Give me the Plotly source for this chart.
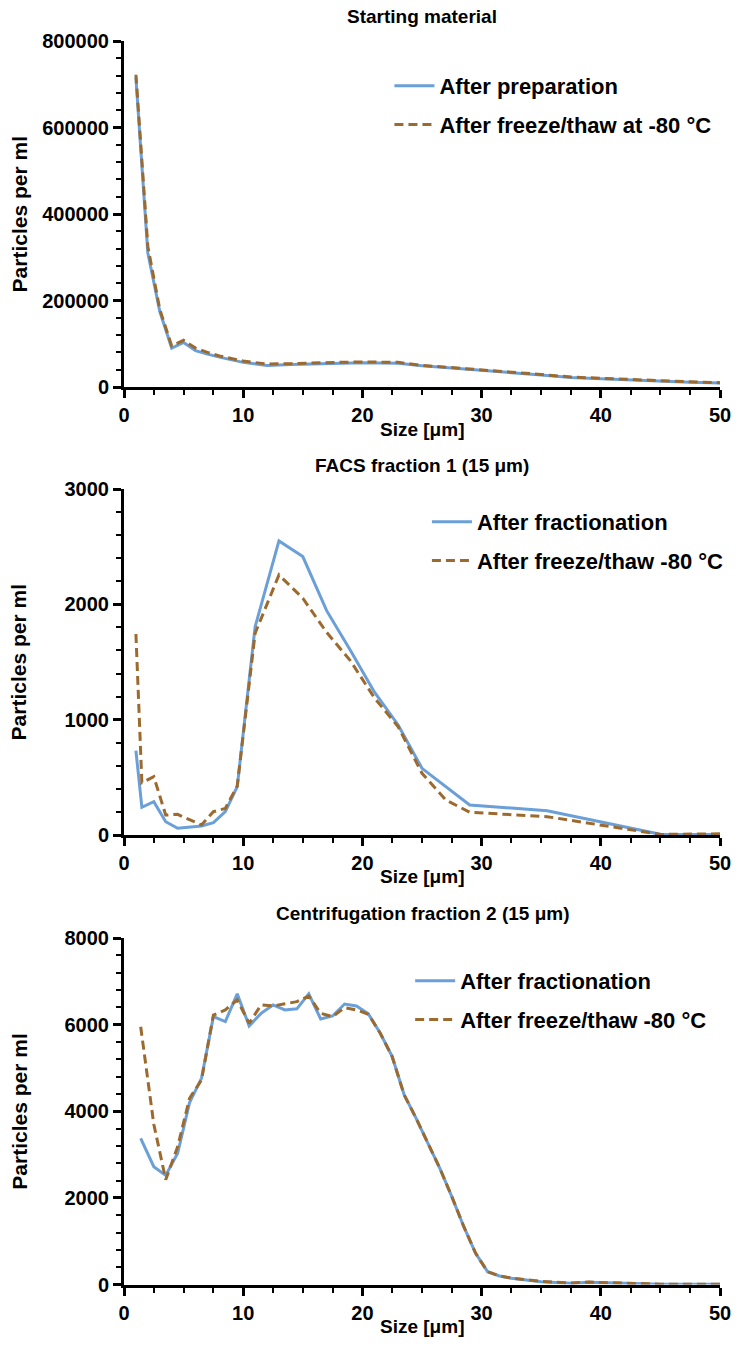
import plotly.graph_objects as go

# ---------------- data ----------------
# Panel 1: Starting material
sm_size = [1, 2, 3, 4, 5, 6, 7, 8, 10, 12, 14, 16, 18, 20, 23, 25, 27.5, 30, 32.5, 35, 37.5, 40, 42.5, 45, 47.5, 50]
sm_prep = [715000, 310000, 175000, 90000, 103000, 84000, 76000, 69000, 57000, 50000, 52000, 53000, 55000, 56000,
           55000, 49000, 44000, 38000, 33000, 28000, 22000, 19000, 16000, 14000, 11000, 9000]
sm_thaw = [722000, 325000, 180000, 95000, 108000, 90000, 80000, 72000, 60000, 53000, 54000, 56000, 57000, 58000,
           57000, 50000, 45000, 39000, 34000, 29000, 23000, 20000, 17000, 14500, 12000, 10000]

# Panel 2: FACS fraction 1 (15 µm)
facs_size = [1, 1.5, 2.5, 3.5, 4.5, 6.5, 7.5, 8.5, 9.5, 11, 13, 15, 17, 19, 21, 23, 25, 27, 29, 35.5, 45, 50]
facs_frac = [731, 240, 289, 115, 58, 78, 107, 202, 419, 1806, 2550, 2414, 1945, 1600, 1240, 954, 578, 419, 260,
             211, 6, 5]
facs_thaw = [1743, 454, 506, 173, 179, 87, 202, 231, 425, 1749, 2255, 2053, 1757, 1510, 1190, 939, 535, 304, 197,
             159, 5, 10]

# Panel 3: Centrifugation fraction 2 (15 µm)
cf_size = [1.4, 2.5, 3.5, 4.5, 5.5, 6.5, 7.5, 8.5, 9.5, 10.5, 11.5, 12.5, 13.5, 14.5, 15.5, 16.5, 17.5, 18.5,
           19.5, 20.5, 21.5, 22.5, 23.5, 24.5, 25.5, 26.5, 27.5, 28.5, 29.5, 30.5, 31.5, 32.5, 35, 37.5, 39, 42,
           45, 50]
cf_frac = [3376, 2720, 2520, 3030, 4200, 4760, 6185, 6070, 6710, 5970, 6260, 6455, 6340, 6365, 6710, 6130, 6200,
           6475, 6430, 6250, 5800, 5260, 4380, 3840, 3260, 2680, 2030, 1340, 720, 296, 196, 143, 65, 28, 51, 30,
           5, 5]
cf_thaw = [5950, 3700, 2420, 3180, 4300, 4720, 6220, 6340, 6570, 6030, 6455, 6430, 6480, 6530, 6660, 6260, 6185,
           6390, 6340, 6240, 5800, 5260, 4380, 3840, 3260, 2680, 2030, 1340, 720, 296, 200, 150, 70, 35, 55, 35,
           8, 5]

titles = ["Starting material", "FACS fraction 1 (15 μm)", "Centrifugation fraction 2 (15 μm)"]
legend_names = [["After preparation", "After freeze/thaw at -80 °C"],
                ["After fractionation", "After freeze/thaw -80 °C"],
                ["After fractionation", "After freeze/thaw -80 °C"]]
x_ticks = [0, 10, 20, 30, 40, 50]
y_max = [800000, 3000, 8000]
y_dtick = [200000, 1000, 2000]
y_minor = [40000, 200, 400]

# ---------------- styling ----------------
W, H = 743, 1346
ML, MR, MT, MB = 124, 15, 41, 61
PH = H - MT - MB
PW = W - ML - MR
FONT = "Liberation Sans"
BLUE = "#6A9FD8"
BROWN = "#9C6A2E"


def py(px):
    return (H - MB - px) / PH


def pxx(px):
    return (px - ML) / PW


def clamp(v):
    return max(0.0, min(1.0, v))


domains = [[clamp(py(387)), clamp(py(40.7))], [py(835), py(489)], [clamp(py(1284.5)), py(938)]]

fig = go.Figure()
series = [(sm_size, sm_prep, sm_thaw), (facs_size, facs_frac, facs_thaw), (cf_size, cf_frac, cf_thaw)]
legkeys = ["legend", "legend2", "legend3"]
for i, (xs, a, b) in enumerate(series):
    ax = "" if i == 0 else str(i + 1)
    fig.add_trace(go.Scatter(x=xs, y=a, mode="lines", name=legend_names[i][0],
                             line=dict(color=BLUE, width=3), xaxis="x" + ax, yaxis="y" + ax,
                             legend=legkeys[i], legendgroup=f"g{i}a"))
    fig.add_trace(go.Scatter(x=xs, y=b, mode="lines", name=legend_names[i][1],
                             line=dict(color=BROWN, width=3, dash="9px,5px"), xaxis="x" + ax, yaxis="y" + ax,
                             legend=legkeys[i], legendgroup=f"g{i}b"))

tickfont = dict(family=FONT, size=20, color="black", weight="bold")
layout = dict(width=W, height=H, margin=dict(l=ML, r=MR, t=MT, b=MB),
              paper_bgcolor="white", plot_bgcolor="white", showlegend=True)

for i in range(3):
    ax = "" if i == 0 else str(i + 1)
    layout["xaxis" + ax] = dict(domain=[0, 1], anchor="y" + ax, range=[0, 50], tickvals=x_ticks,
                                showgrid=False, zeroline=False, showline=True, linecolor="black", linewidth=3,
                                ticks="outside", ticklen=8, tickwidth=2.5, tickcolor="black", tickfont=tickfont,
                                minor=dict(dtick=2.5, ticks="outside", ticklen=5, tickwidth=2, tickcolor="black",
                                           showgrid=False))
    layout["yaxis" + ax] = dict(domain=domains[i], anchor="x" + ax, range=[0, y_max[i]], dtick=y_dtick[i],
                                tickformat="d", showgrid=False, zeroline=False, showline=True, linecolor="black",
                                linewidth=3, ticks="outside", ticklen=8, tickwidth=2.5, tickcolor="black",
                                tickfont=tickfont,
                                minor=dict(dtick=y_minor[i], ticks="outside", ticklen=5, tickwidth=2,
                                           tickcolor="black", showgrid=False))

leg_pos = [(399, 82), (437, 518), (420, 977)]
for i, (lx, ly) in enumerate(leg_pos):
    layout[legkeys[i]] = dict(x=pxx(lx - 6), y=py(ly - 17), xanchor="left", yanchor="top", xref="paper",
                              yref="paper", bgcolor="rgba(0,0,0,0)",
                              font=dict(family=FONT, size=22, color="black", weight="bold"),
                              itemwidth=40, tracegroupgap=7, traceorder="grouped")

annotations = []
title_y = [17, 466, 913]
xlab_y = [429, 877, 1326]
for i in range(3):
    annotations.append(dict(text=titles[i], x=0.5, y=py(title_y[i]), xref="paper", yref="paper",
                            showarrow=False, xanchor="center", yanchor="middle",
                            font=dict(family=FONT, size=19, color="black", weight="bold")))
    annotations.append(dict(text="Size [μm]", x=0.5, y=py(xlab_y[i]), xref="paper", yref="paper",
                            showarrow=False, xanchor="center", yanchor="middle",
                            font=dict(family=FONT, size=19, color="black", weight="bold")))
    annotations.append(dict(text="Particles per ml", x=pxx(18),
                            y=(domains[i][0] + domains[i][1]) / 2, xref="paper", yref="paper",
                            showarrow=False, xanchor="center", yanchor="middle", textangle=-90,
                            font=dict(family=FONT, size=21, color="black", weight="bold")))
layout["annotations"] = annotations

fig.update_layout(**layout)
fig.write_html("out.html")
